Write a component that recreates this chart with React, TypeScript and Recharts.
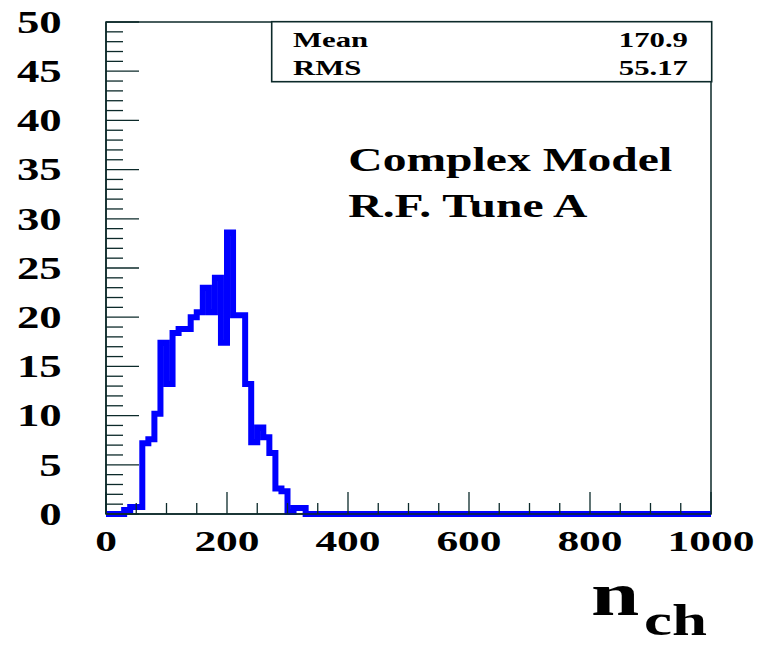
import React from 'react';
import { LineChart, Line, XAxis, YAxis, ReferenceArea } from 'recharts';

// histogram: bin lower edges (n_ch) and entries per bin
const binStart = [0, 10, 20, 30, 40, 50, 60, 70, 80, 90, 100, 110, 120, 130, 140, 150, 160, 170, 180, 190, 200, 210, 220, 230, 240, 250, 260, 270, 280, 290, 300, 310, 320, 330, 1000];
const counts = [0, 0, 0, 0.4, 0.7, 0.7, 7.2, 7.6, 10.2, 17.4, 13.2, 18.4, 18.8, 18.8, 20.0, 20.5, 23.0, 20.5, 24.0, 17.4, 28.6, 20.2, 20.2, 13.2, 7.3, 8.8, 7.8, 6.2, 2.6, 2.3, 0.2, 0.6, 0.6, 0, 0];

const xLabels = [0, 200, 400, 600, 800, 1000];
const xTicks = [0, 50, 100, 150, 200, 250, 300, 350, 400, 450, 500, 550, 600, 650, 700, 750, 800, 850, 900, 950, 1000];
const yLabels = [0, 5, 10, 15, 20, 25, 30, 35, 40, 45, 50];
const yTicks = Array.from({ length: 51 }, (_, i) => i);

const statNames = ['Mean', 'RMS'];
const statValues = ['170.9', '55.17'];
const modelLines = ['Complex Model', 'R.F. Tune A'];

const data = binStart.map((x, i) => ({ x, n: counts[i] }));

const INK = '#0c2a2a';
const SX = 1.4;
const FONT = '"Liberation Serif", "Times New Roman", serif';

function YTick(props: any) {
  const { x, y, payload } = props;
  const v = payload.value;
  const major = yLabels.includes(v);
  return (
    <g>
      <line x1={x} x2={x + (major ? 33 : 17)} y1={y} y2={y} stroke={INK} strokeWidth={1.3} />
      {major && (
        <text
          transform={`translate(${x - 44.3},${y}) scale(${SX},1)`}
          textAnchor="end"
          dy="0.34em"
          fontFamily={FONT}
          fontWeight="bold"
          fontSize={32}
          fill="#000"
        >
          {v}
        </text>
      )}
    </g>
  );
}

function XTick(props: any) {
  const { x, y, payload } = props;
  const v = payload.value;
  const major = xLabels.includes(v);
  return (
    <g>
      <line x1={x} x2={x} y1={y} y2={y - (major ? 22 : 11)} stroke={INK} strokeWidth={1.3} />
      {major && (
        <text
          transform={`translate(${x},${y + 27}) scale(1.5,1)`}
          textAnchor="middle"
          dy="0.34em"
          fontFamily={FONT}
          fontWeight="bold"
          fontSize={29}
          fill="#000"
        >
          {v}
        </text>
      )}
    </g>
  );
}

export default function App() {
  return (
    <div style={{ position: 'absolute', left: 0, top: 0, width: 762, height: 645, background: '#fff' }}>
      <LineChart width={762} height={645} data={data} margin={{ top: 22, right: 51, bottom: 71, left: 0 }}>
        <XAxis
          type="number"
          dataKey="x"
          domain={[0, 1000]}
          ticks={xTicks}
          interval={0}
          tick={<XTick />}
          tickSize={0}
          tickMargin={0}
          tickLine={false}
          axisLine={{ stroke: INK, strokeWidth: 1.5 }}
          height={60}
        />
        <YAxis
          type="number"
          domain={[0, 50]}
          ticks={yTicks}
          interval={0}
          tick={<YTick />}
          tickSize={0}
          tickMargin={0}
          tickLine={false}
          axisLine={{ stroke: INK, strokeWidth: 1.5 }}
          width={106}
        />
        <ReferenceArea x1={0} x2={1000} y1={0} y2={50} fill="none" fillOpacity={0} stroke={INK} strokeWidth={1.5} ifOverflow="visible" />
        <Line
          type="stepAfter"
          dataKey="n"
          stroke="#0000ff"
          strokeWidth={6}
          strokeLinejoin="miter"
          dot={false}
          activeDot={false}
          isAnimationActive={false}
        />
      </LineChart>
      <svg width={762} height={645} style={{ position: 'absolute', left: 0, top: 0, pointerEvents: 'none' }}>
        <rect x={271.7} y={21.7} width={440} height={60} fill="#fff" stroke={INK} strokeWidth={1.6} />
        {statNames.map((s, i) => (
          <text key={s} transform={`translate(293,${46.5 + i * 28.5}) scale(${SX},1)`} fontFamily={FONT} fontWeight="bold" fontSize={22} fill="#000">
            {s}
          </text>
        ))}
        {statValues.map((s, i) => (
          <text key={s} transform={`translate(688,${46.5 + i * 28.5}) scale(${SX},1)`} textAnchor="end" fontFamily={FONT} fontWeight="bold" fontSize={22} fill="#000">
            {s}
          </text>
        ))}
        {modelLines.map((s, i) => (
          <text key={s} transform={`translate(348.3,${171 + i * 45.7}) scale(${SX},1)`} fontFamily={FONT} fontWeight="bold" fontSize={34} fill="#000">
            {s}
          </text>
        ))}
        <text transform={`translate(591,615) scale(${SX},1)`} fontFamily={FONT} fontWeight="bold" fontSize={62} fill="#000">n</text>
        <text transform={`translate(644,635) scale(${SX},1)`} fontFamily={FONT} fontWeight="bold" fontSize={45} fill="#000">ch</text>
      </svg>
    </div>
  );
}
